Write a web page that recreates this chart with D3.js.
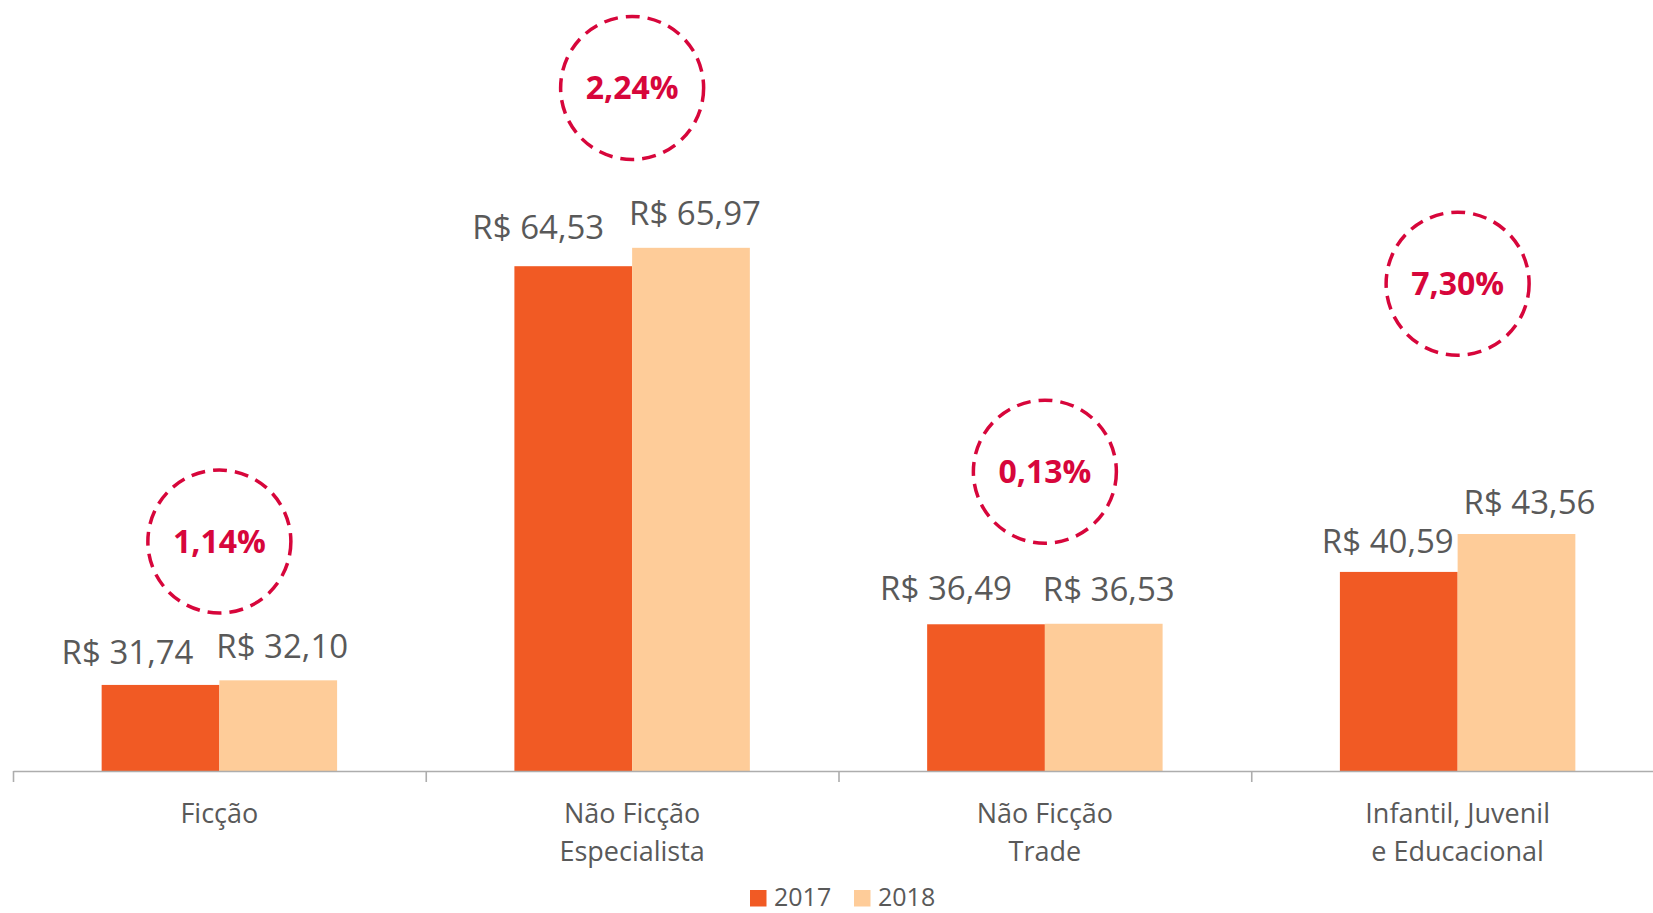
<!DOCTYPE html>
<html>
<head>
<meta charset="utf-8">
<script src="https://cdn.jsdelivr.net/npm/d3@7"></script>
<style>
  html, body { margin: 0; padding: 0; background: #fff; }
  svg { display: block; }
</style>
</head>
<body>
<div id="chart"></div>
<script>
// data
var categories = ["Ficção", "Não Ficção Especialista", "Não Ficção Trade", "Infantil, Juvenil e Educacional"];
var categoryLines = [["Ficção"], ["Não Ficção", "Especialista"], ["Não Ficção", "Trade"], ["Infantil, Juvenil", "e Educacional"]];
var years = ["2017", "2018"];
var values2017 = [31.74, 64.53, 36.49, 40.59];
var values2018 = [32.10, 65.97, 36.53, 43.56];
var growth = ["1,14%", "2,24%", "0,13%", "7,30%"];

(function() {
    var width = 1653,
        height = 913;

    var colors = { "2017": "#F15A24", "2018": "#FECC99" };
    var textGray = "#595959";
    var red = "#D7063B";

    // hand-placed bits from the original (label nudges, badge heights in value units)
    var labelShift = {
        "2017": [[-33, 21], [-35, 27], [-40, 24], [-11, 19]],
        "2018": [[4, 22], [4, 23], [5, 23], [13, 20]]
    };
    var badgeLevel = [42.97, 78.49, 48.44, 63.16];

    var svg = d3.select("#chart")
        .append("svg")
        .attr("width", width)
        .attr("height", height);

    var baseY = 771;

    var x = d3.scaleBand()
        .domain(categories)
        .range([13, 1664])
        .paddingInner(0)
        .paddingOuter(0);

    var xInner = d3.scaleBand()
        .domain(years)
        .range([0, x.bandwidth()])
        .paddingInner(0)
        .paddingOuter(0.753);

    var y = d3.scaleLinear()
        .domain([25, 85])
        .range([baseY, baseY - 60 * 12.77]);

    var rows = [];
    categories.forEach(function(c, i) {
        rows.push({ cat: c, i: i, year: "2017", value: values2017[i] });
        rows.push({ cat: c, i: i, year: "2018", value: values2018[i] });
    });

    // bars
    svg.selectAll(".bar")
        .data(rows)
        .enter().append("rect")
        .attr("class", "bar")
        .attr("x", function(d) { return x(d.cat) + xInner(d.year); })
        .attr("y", function(d) { return y(d.value); })
        .attr("width", xInner.bandwidth())
        .attr("height", function(d) { return baseY - y(d.value); })
        .attr("fill", function(d) { return colors[d.year]; });

    // value labels
    svg.selectAll(".val")
        .data(rows)
        .enter().append("text")
        .attr("class", "val")
        .attr("x", function(d) {
            return x(d.cat) + xInner(d.year) + xInner.bandwidth() / 2 + labelShift[d.year][d.i][0];
        })
        .attr("y", function(d) { return y(d.value) - labelShift[d.year][d.i][1]; })
        .attr("text-anchor", "middle")
        .attr("font-family", "'Open Sans', sans-serif")
        .attr("font-size", 33)
        .attr("fill", textGray)
        .text(function(d) { return "R$ " + d3.format(".2f")(d.value).replace(".", ","); });

    // axis with ticks between categories
    var edge = d3.scaleLinear().domain([0, categories.length]).range(x.range());
    var axis = svg.append("g")
        .attr("transform", "translate(0," + baseY + ")")
        .call(d3.axisBottom(edge)
            .tickValues(d3.range(categories.length + 1))
            .tickFormat("")
            .tickSizeInner(11)
            .tickSizeOuter(0));
    axis.select(".domain").attr("stroke", "#ADADAD").attr("stroke-width", 1.6);
    axis.selectAll(".tick line").attr("stroke", "#ADADAD").attr("stroke-width", 1.6);

    // category labels
    var catText = svg.selectAll(".cat")
        .data(categories)
        .enter().append("text")
        .attr("class", "cat")
        .attr("text-anchor", "middle")
        .attr("font-family", "'Open Sans', sans-serif")
        .attr("font-size", 27)
        .attr("fill", textGray);

    catText.selectAll("tspan")
        .data(function(d, i) {
            return categoryLines[i].map(function(l) { return { line: l, cx: x(d) + x.bandwidth() / 2 }; });
        })
        .enter().append("tspan")
        .attr("x", function(d) { return d.cx; })
        .attr("y", function(d, j) { return 823 + j * 38; })
        .text(function(d) { return d.line; });

    // growth badges
    var badges = svg.selectAll(".badge")
        .data(categories)
        .enter().append("g")
        .attr("class", "badge")
        .attr("transform", function(d, i) {
            return "translate(" + (x(d) + x.bandwidth() / 2) + "," + y(badgeLevel[i]) + ")";
        });

    badges.append("circle")
        .attr("r", 71.5)
        .attr("fill", "none")
        .attr("stroke", red)
        .attr("stroke-width", 3.5)
        .attr("stroke-dasharray", "14 8");

    badges.append("text")
        .attr("text-anchor", "middle")
        .attr("y", 11.5)
        .attr("font-family", "'Open Sans', sans-serif")
        .attr("font-weight", 700)
        .attr("font-size", 32)
        .attr("fill", red)
        .text(function(d, i) { return growth[i]; });

    // legend
    var legendStep = 104;
    var legend = svg.append("g")
        .attr("transform", "translate(750,0)");

    var item = legend.selectAll(".leg")
        .data(years)
        .enter().append("g")
        .attr("class", "leg")
        .attr("transform", function(d, i) { return "translate(" + (i * legendStep) + ",0)"; });

    item.append("rect")
        .attr("y", 890)
        .attr("width", 16.5)
        .attr("height", 16.5)
        .attr("fill", function(d) { return colors[d]; });

    item.append("text")
        .attr("x", 24)
        .attr("y", 906)
        .attr("font-family", "'Open Sans', sans-serif")
        .attr("font-size", 25)
        .attr("fill", textGray)
        .text(function(d) { return d; });
})();
</script>
</body>
</html>
